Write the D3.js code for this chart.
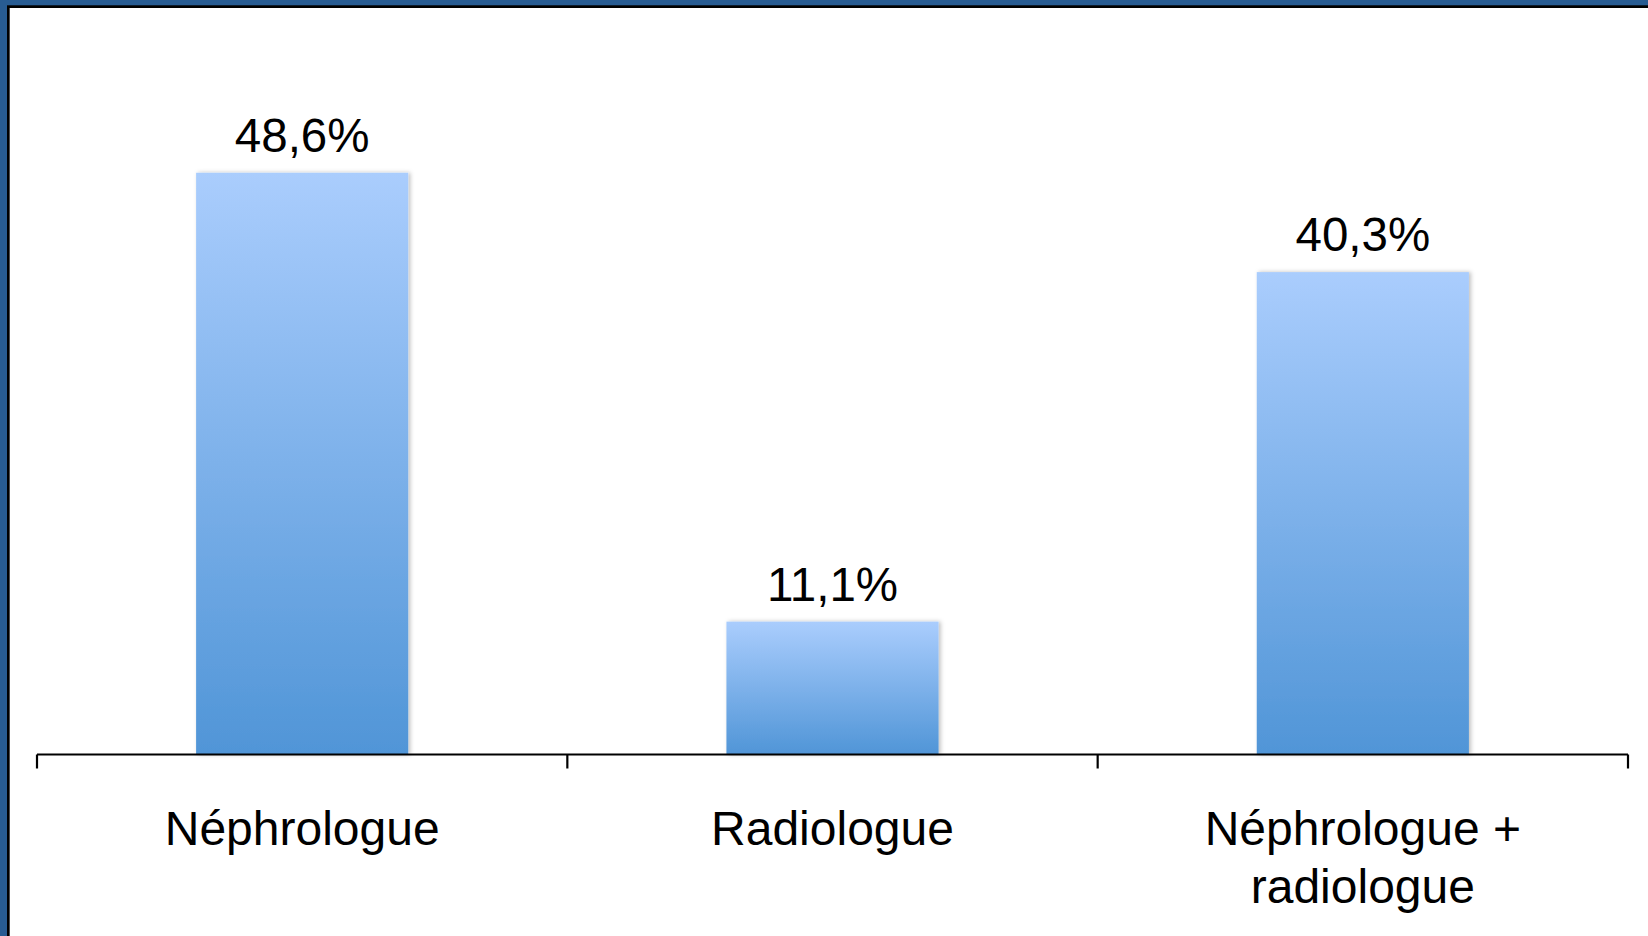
<!DOCTYPE html>
<html>
<head>
<meta charset="utf-8">
<script src="https://cdn.jsdelivr.net/npm/d3@7"></script>
<style>
  html, body { margin: 0; padding: 0; background: #ffffff; }
  svg { display: block; }
  text { font-family: "Liberation Sans", Arial, Helvetica, sans-serif; fill: #000; }
</style>
</head>
<body>
<svg id="chart" width="1648" height="936"></svg>
<script>
const categories = ["Néphrologue", "Radiologue", "Néphrologue +\nradiologue"];
const values = [48.6, 11.1, 40.3];
const valueLabels = ["48,6%", "11,1%", "40,3%"];
const yDomain = [0, 60];

const W = 1648, H = 936;
const svg = d3.select("#chart");

// frame
svg.append("rect").attr("x", 0).attr("y", 0).attr("width", W).attr("height", H).attr("fill", "#285c92");
svg.append("rect").attr("x", 7).attr("y", 5.3).attr("width", W).attr("height", H).attr("fill", "#000");
svg.append("rect").attr("x", 9.7).attr("y", 8).attr("width", W).attr("height", H).attr("fill", "#ffffff");

const defs = svg.append("defs");
const grad = defs.append("linearGradient").attr("id", "barGrad")
  .attr("x1", 0).attr("y1", 0).attr("x2", 0).attr("y2", 1);
grad.append("stop").attr("offset", "0%").attr("stop-color", "#aacdfd");
grad.append("stop").attr("offset", "100%").attr("stop-color", "#5095d7");

const f = defs.append("filter").attr("id", "shadow")
  .attr("x", "-10%").attr("y", "-10%").attr("width", "130%").attr("height", "120%");
f.append("feDropShadow").attr("dx", 2).attr("dy", 0).attr("stdDeviation", 2)
  .attr("flood-color", "#000").attr("flood-opacity", 0.25);

const x = d3.scaleBand().domain(categories).range([37, 1628]).paddingInner(0.6).paddingOuter(0.3);
const xCat = d3.scaleBand().domain(categories).range([37, 1628]);
const y = d3.scaleLinear().domain(yDomain).range([754.5, 36.3]);

const data = categories.map((c, i) => ({ c, v: values[i], label: valueLabels[i] }));

svg.append("g").selectAll("rect").data(data).join("rect")
  .attr("x", d => x(d.c))
  .attr("y", d => y(d.v))
  .attr("width", x.bandwidth())
  .attr("height", d => y(0) - y(d.v))
  .attr("fill", "url(#barGrad)")
  .attr("filter", "url(#shadow)");

// value labels
svg.append("g").selectAll("text").data(data).join("text")
  .attr("x", d => x(d.c) + x.bandwidth() / 2)
  .attr("y", d => y(d.v) - 21)
  .attr("text-anchor", "middle")
  .attr("font-size", 47.5)
  .text(d => d.label);

// axis line and ticks
const axisG = svg.append("g");
axisG.append("line").attr("x1", 37).attr("x2", 1628).attr("y1", y(0)).attr("y2", y(0))
  .attr("stroke", "#000").attr("stroke-width", 2.2);
const tickPos = categories.map(c => xCat(c)).concat([xCat(categories[categories.length - 1]) + xCat.bandwidth()]);
axisG.selectAll("line.tick").data(tickPos).join("line").attr("class", "tick")
  .attr("x1", d => d).attr("x2", d => d)
  .attr("y1", y(0)).attr("y2", y(0) + 14)
  .attr("stroke", "#000").attr("stroke-width", 2.2);

// category labels
const catG = svg.append("g").selectAll("text").data(categories).join("text")
  .attr("x", d => xCat(d) + xCat.bandwidth() / 2)
  .attr("y", 845)
  .attr("text-anchor", "middle")
  .attr("font-size", 48);
catG.each(function(d) {
  const lines = d.split("\n");
  const t = d3.select(this);
  lines.forEach((ln, i) => {
    t.append("tspan").attr("x", xCat(d) + xCat.bandwidth() / 2)
      .attr("dy", i === 0 ? 0 : 58).text(ln);
  });
});
</script>
</body>
</html>
